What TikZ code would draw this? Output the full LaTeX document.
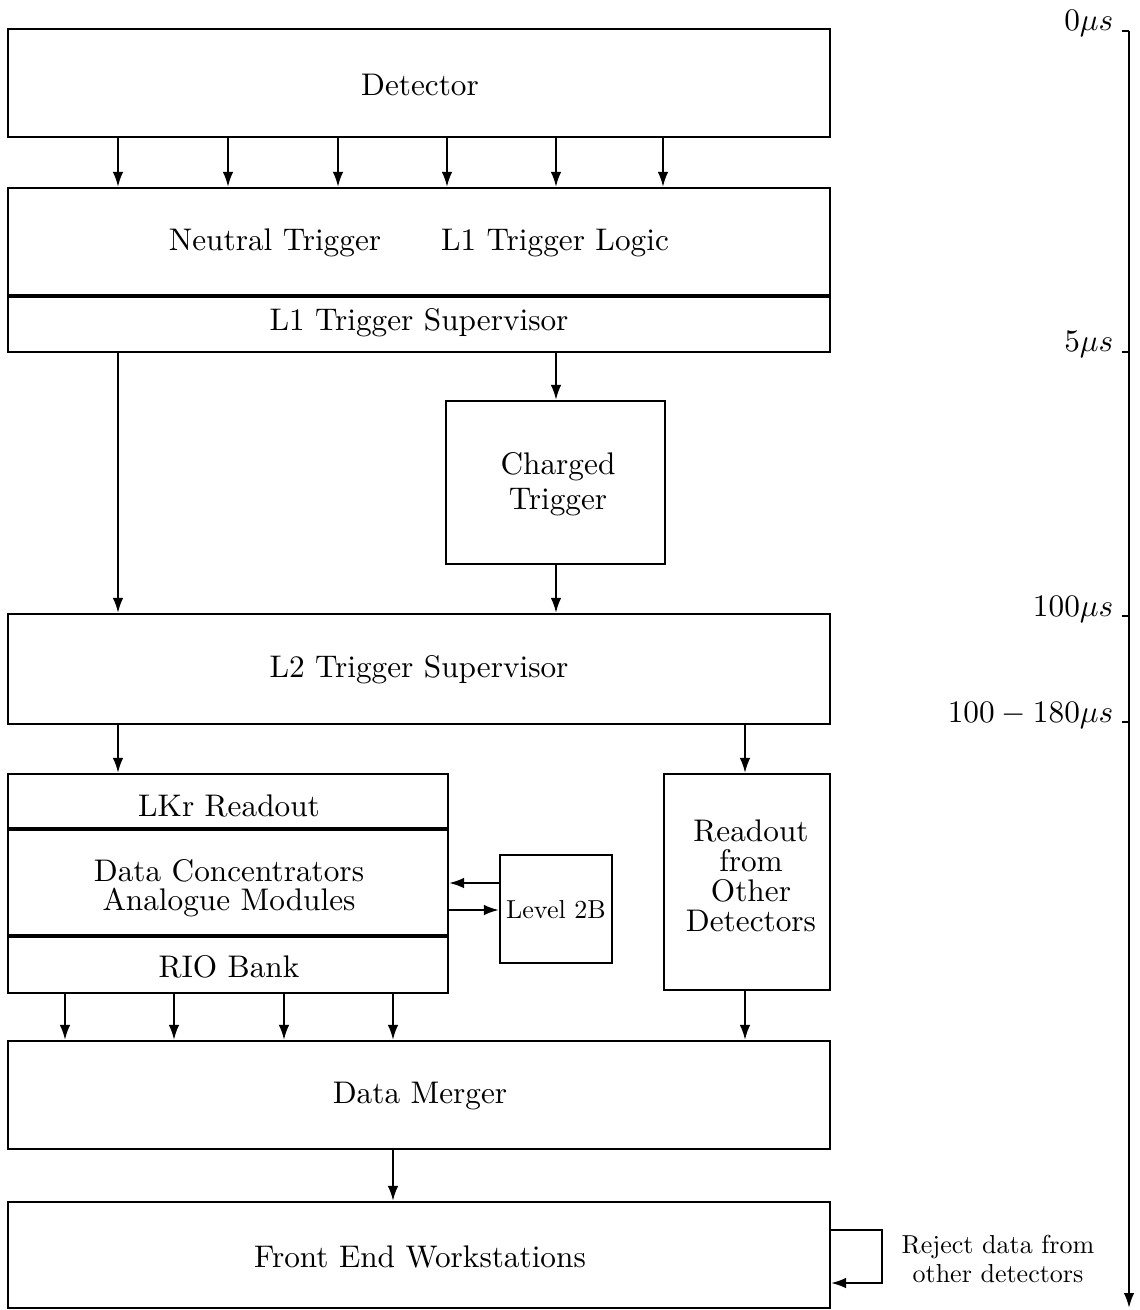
\documentclass[tikz,border=0pt]{standalone}
\usetikzlibrary{arrows.meta}
\begin{document}
\begin{tikzpicture}[x=0.02cm,y=-0.02cm,
  box/.style={draw,line width=1.3pt,inner sep=0pt},
  lbl/.style={font=\fontsize{10}{9.5}\selectfont,inner sep=0pt,scale=1.78,transform shape,align=center},
  small/.style={font=\fontsize{10}{11.5}\selectfont,inner sep=0pt,scale=1.48,transform shape,align=center},
  arr/.style={line width=1.1pt,-{Latex[length=8.5pt,width=6pt]}},
  divider/.style={line width=2.4pt},
  axisline/.style={line width=1.3pt},
]
\useasboundingbox (0,0) rectangle (1139,1310);

% boxes
\node[box,minimum width=16.44cm,minimum height=2.16cm] (det) at (419,83) {};
\node[lbl] (detl) at (420,85) {Detector};
\node[box,minimum width=16.44cm,minimum height=3.28cm] (l1) at (419,270) {};
\node[lbl] (nt) at (275,243) {Neutral Trigger};
\node[lbl] (tl) at (555,243) {L1 Trigger Logic};
\node[lbl] (l1s) at (419,323) {L1 Trigger Supervisor};
\draw[divider] (8,296) -- (830,296);

\node[box,minimum width=4.38cm,minimum height=3.26cm] (ch) at (555.5,482.5) {};
\node[lbl,font=\fontsize{10}{11.2}\selectfont] (cht) at (558,484) {Charged\\Trigger};

\node[box,minimum width=16.44cm,minimum height=2.2cm] (l2) at (419,669) {};
\node[lbl] (l2t) at (419,670) {L2 Trigger Supervisor};

\node[box,minimum width=8.8cm,minimum height=4.38cm] (lkr) at (228,883.5) {};
\node[lbl] (lkrr) at (229,806) {LKr Readout};
\node[lbl,font=\fontsize{10}{9.2}\selectfont] (dc) at (229,888) {Data Concentrators\\Analogue Modules};
\node[lbl] (rio) at (229,967) {RIO Bank};
\draw[divider] (8,829) -- (448,829);
\draw[divider] (8,936) -- (448,936);

\node[box,minimum width=2.24cm,minimum height=2.16cm] (lv) at (556,909) {};
\node[small] (lvt) at (556,910) {Level 2B};

\node[box,minimum width=3.32cm,minimum height=4.32cm] (ro) at (747,882) {};
\node[lbl,font=\fontsize{10}{9.6}\selectfont] (rot) at (751,876) {Readout\\from\\Other\\Detectors};

\node[box,minimum width=16.44cm,minimum height=2.16cm] (dm) at (419,1095) {};
\node[lbl] (dmt) at (420,1096) {Data Merger};
\node[box,minimum width=16.44cm,minimum height=2.12cm] (few) at (419,1255) {};
\node[lbl] (fewt) at (420,1257) {Front End Workstations};

% arrows detector -> L1
\foreach \xx in {118,228,338,447,556,663}
  \draw[arr] (\xx,0 |- det.south) -- (\xx,0 |- l1.north);
% L1 -> L2, L1 -> charged, charged -> L2
\draw[arr] (118,0 |- l1.south) -- (118,0 |- l2.north);
\draw[arr] (556,0 |- l1.south) -- (556,0 |- ch.north);
\draw[arr] (556,0 |- ch.south) -- (556,0 |- l2.north);
% L2 -> readouts
\draw[arr] (118,0 |- l2.south) -- (118,0 |- lkr.north);
\draw[arr] (745,0 |- l2.south) -- (745,0 |- ro.north);
% Level 2B links
\draw[arr] (lv.west |- 0,883) -- (lkr.east |- 0,883);
\draw[arr] (lkr.east |- 0,910) -- (lv.west |- 0,910);
% to data merger
\foreach \xx in {65,174,284,393}
  \draw[arr] (\xx,0 |- lkr.south) -- (\xx,0 |- dm.north);
\draw[arr] (745,0 |- ro.south) -- (745,0 |- dm.north);
% merger -> FEW
\draw[arr] (393,0 |- dm.south) -- (393,0 |- few.north);
% reject loop
\coordinate (rj1) at (882,1230);
\coordinate (rj2) at (882,1283);
\draw[arr] (few.east |- 0,1230) -- (rj1) -- (rj2) -- (few.east |- 0,1283);
\node[small] (rjt) at (998,1259) {Reject data from\\other detectors};

% time axis
\coordinate (ax0) at (1129,31);
\coordinate (ax1) at (1129,1308);
\draw[axisline,-{Latex[length=8.5pt,width=6pt]}] (ax0) -- (ax1);
\foreach \yy/\nm/\tx in {31/t0/{$0\mu s$},352/t1/{$5\mu s$},616/t2/{$100\mu s$},722/t3/{$100-180\mu s$}}{
  \coordinate (\nm tick) at (1129,\yy);
  \draw[axisline] (\nm tick) -- ++(-7,0);
  \node[lbl,anchor=base east] (\nm) at (1114,\yy) {\tx};
}
\end{tikzpicture}
\end{document}
